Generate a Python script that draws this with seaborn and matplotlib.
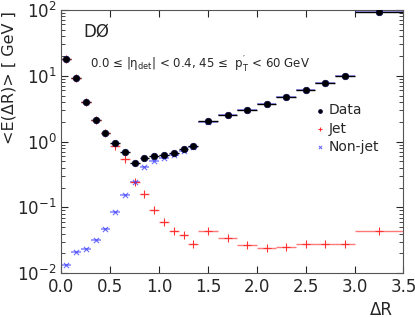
import numpy as np
import pandas as pd
import matplotlib
matplotlib.use('Agg')
import matplotlib.pyplot as plt
import seaborn as sns

# bin centres and half-widths
dr = [0.05, 0.15, 0.25, 0.35, 0.45, 0.55, 0.65, 0.75, 0.85, 0.95, 1.05, 1.15, 1.25, 1.35,
      1.5, 1.7, 1.9, 2.1, 2.3, 2.5, 2.7, 2.9, 3.25]
dr_err = [0.05] * 14 + [0.1] * 8 + [0.25]

data_e = [18.1, 9.3, 4.04, 2.15, 1.37, 0.94, 0.70, 0.48, 0.565, 0.605, 0.627, 0.68, 0.76, 0.87,
          2.05, 2.53, 3.01, 3.77, 4.81, 6.14, 7.73, 10.0, 93.0]
jet_e = [18.0, 9.25, 4.0, 2.12, 1.33, 0.86, 0.54, 0.24, 0.158, 0.090, 0.061, 0.044, 0.038, 0.0275,
         0.044, 0.034, 0.0269, 0.0239, 0.0248, 0.0275, 0.0275, 0.0275, 0.044]
nonjet_e = [0.0134, 0.0208, 0.0236, 0.0316, 0.0464, 0.085, 0.154, 0.244, 0.408, 0.508, 0.553, 0.635, 0.72, 0.84,
            2.0, 2.49, 2.98, 3.74, 4.78, 6.1, 7.7, 9.97, 92.5]

df = pd.DataFrame({'dr': dr, 'err': dr_err, 'Data': data_e, 'Jet': jet_e, 'Non-jet': nonjet_e})

sns.set_style('ticks')
plt.rcParams['font.family'] = ['DejaVu Sans']

fig = plt.figure(figsize=(4.15, 3.17), dpi=100)
ax = fig.add_axes([0.148, 0.138, 0.824, 0.831])

# horizontal bin-width bars
ax.errorbar(df['dr'], df['Non-jet'], xerr=df['err'], fmt='none', ecolor='#4040ff', alpha=0.6, lw=1.2)
ax.errorbar(df['dr'], df['Jet'], xerr=df['err'], fmt='none', ecolor='#ff2020', alpha=0.6, lw=1.0)
ax.errorbar(df['dr'], df['Data'], xerr=df['err'], fmt='none', ecolor='black', lw=1.0)

sns.scatterplot(data=df, x='dr', y='Data', ax=ax, color='black', marker='o', s=22,
                edgecolor='#000040', linewidth=0.5, label='Data', zorder=5)
sns.scatterplot(data=df, x='dr', y='Jet', ax=ax, color='#ff3030', marker='+', s=30,
                linewidth=0.8, label='Jet', zorder=4)
sns.scatterplot(data=df, x='dr', y='Non-jet', ax=ax, color='#3030ff', marker='x', s=14,
                linewidth=0.8, alpha=0.7, label='Non-jet', zorder=4)

ax.set_yscale('log')
ax.set_xlim(0, 3.5)
ax.set_ylim(1e-2, 1e2)
ax.set_xticks(np.arange(0, 3.51, 0.5))
ax.set_xticklabels([f'{v:.1f}' for v in np.arange(0, 3.51, 0.5)])
ax.tick_params(which='both', direction='in', top=True, right=True, labelsize=12)
ax.tick_params(which='major', length=5)
ax.tick_params(which='minor', length=3)
for s in ax.spines.values():
    s.set_color('#555555')
    s.set_linewidth(0.8)

ax.set_xlabel('ΔR', loc='right', fontsize=12)
ax.xaxis.set_label_coords(0.97, -0.105)
ax.set_ylabel('<E(ΔR)> [ GeV ]', loc='top', fontsize=11.5)
ax.yaxis.set_label_coords(-0.13, 0.995)

ax.text(0.065, 0.90, 'DØ', transform=ax.transAxes, fontsize=12)
ax.text(0.085, 0.775, r'0.0 ≤ |η$_{\mathregular{det}}$| < 0.4, 45 ≤  p$_{\mathregular{T}}^{\mathregular{\prime}}$ < 60 GeV',
        transform=ax.transAxes, fontsize=8.5)

leg = ax.legend(loc='upper left', bbox_to_anchor=(0.74, 0.645), frameon=False, fontsize=10,
                handletextpad=0.2, labelspacing=0.3, handlelength=0.8, markerscale=0.6,
                borderaxespad=0, borderpad=0)

fig.savefig('out.png', dpi=100)
